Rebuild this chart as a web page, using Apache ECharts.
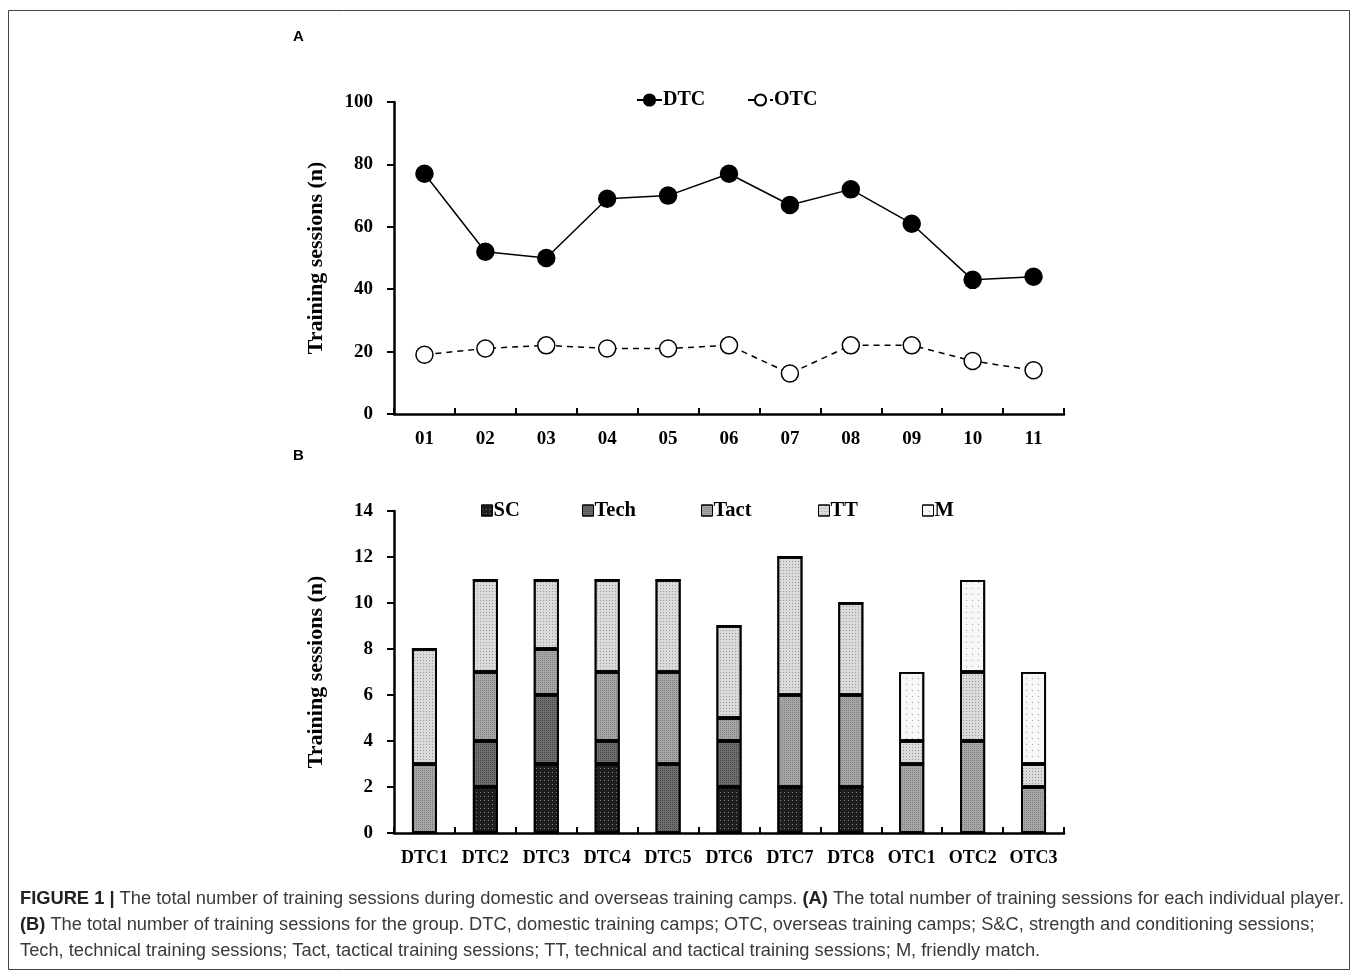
<!DOCTYPE html>
<html>
<head>
<meta charset="utf-8">
<script src="https://cdn.jsdelivr.net/npm/echarts@6/dist/echarts.min.js"></script>
<style>
html,body{margin:0;padding:0;background:#fff;}
#chart{width:1357px;height:980px;}
</style>
</head>
<body>
<div id="chart"></div>
<script>
// Panel A data
const players = ['01','02','03','04','05','06','07','08','09','10','11'];
const dtcValues = [77, 52, 50, 69, 70, 77, 67, 72, 61, 43, 44];
const otcValues = [19, 21, 22, 21, 21, 22, 13, 22, 22, 17, 14];
const yTicksA = [0, 20, 40, 60, 80, 100];

// Panel B data
const camps = ['DTC1','DTC2','DTC3','DTC4','DTC5','DTC6','DTC7','DTC8','OTC1','OTC2','OTC3'];
const scValues   = [0, 2, 3, 3, 0, 2, 2, 2, 0, 0, 0];
const techValues = [0, 2, 3, 1, 3, 2, 0, 0, 0, 0, 0];
const tactValues = [3, 3, 2, 3, 4, 1, 4, 4, 3, 4, 2];
const ttValues   = [5, 4, 3, 4, 4, 4, 6, 4, 1, 3, 1];
const mValues    = [0, 0, 0, 0, 0, 0, 0, 0, 3, 4, 4];
const yTicksB = [0, 2, 4, 6, 8, 10, 12, 14];

const serif = '"Liberation Serif", "Times New Roman", serif';
const sans = '"Liberation Sans", Arial, sans-serif';

const chart = echarts.init(document.getElementById('chart'), null, {renderer: 'canvas'});

const axisLine = {show: true, lineStyle: {color: '#000', width: 2.5}};
const labelStyle = {color: '#000', fontFamily: serif, fontWeight: 'bold', fontSize: 19};

const barStyles = {
  SC:   {color: '#1e1e1e', decal: {symbol: 'rect', symbolSize: 1, color: 'rgba(255,255,255,0.45)', dashArrayX: [1, 3], dashArrayY: [1, 3]}},
  Tech: {color: '#6e6e6e', decal: {symbol: 'rect', symbolSize: 1, color: 'rgba(0,0,0,0.35)', dashArrayX: [1, 1], dashArrayY: [1, 1]}},
  Tact: {color: '#a6a6a6', decal: {symbol: 'rect', symbolSize: 1, color: 'rgba(0,0,0,0.22)', dashArrayX: [1, 1], dashArrayY: [1, 1]}},
  TT:   {color: '#dadada', decal: {symbol: 'rect', symbolSize: 1, color: 'rgba(0,0,0,0.28)', dashArrayX: [1, 2], dashArrayY: [1, 2]}},
  M:    {color: '#f7f7f7', decal: {symbol: 'rect', symbolSize: 1, color: 'rgba(0,0,0,0.35)', dashArrayX: [1, 5], dashArrayY: [1, 5]}}
};

function barSeries(name, data) {
  const st = barStyles[name];
  return {
    name: name, type: 'bar', stack: 'B', xAxisIndex: 1, yAxisIndex: 1,
    data: data, barWidth: 25,
    itemStyle: {color: st.color, borderColor: '#000', borderWidth: 1.8, decal: st.decal},
    emphasis: {disabled: true}
  };
}

const legendTextA = {fontFamily: serif, fontWeight: 'bold', fontSize: 20, color: '#000', padding: [0, 0, 0, -4]};
const legendTextB = {fontFamily: serif, fontWeight: 'bold', fontSize: 20.5, color: '#000', padding: [0, 0, 0, -4]};
function legendB(name, left) {
  return {
    data: [{name: name, icon: 'rect'}], top: 500, left: left,
    itemWidth: 11, itemHeight: 11, padding: 0,
    textStyle: legendTextB,
    itemStyle: {borderColor: '#000', borderWidth: 1}
  };
}

const option = {
  animation: false,
  backgroundColor: '#fff',
  legend: [
    {data: ['DTC'], top: 90, left: 636, padding: 0, itemWidth: 25, itemHeight: 14, textStyle: legendTextA},
    {data: ['OTC'], top: 90, left: 747, padding: 0, itemWidth: 25, itemHeight: 14, textStyle: legendTextA},
    legendB('SC', 481),
    legendB('Tech', 582),
    legendB('Tact', 701),
    legendB('TT', 818),
    legendB('M', 922)
  ],
  grid: [
    {left: 394, top: 102, width: 670, height: 312},
    {left: 394, top: 511, width: 670, height: 322}
  ],
  xAxis: [
    {
      type: 'category', gridIndex: 0, data: players, boundaryGap: true,
      axisLine: axisLine,
      axisTick: {show: true, inside: true, length: 6, lineStyle: {color: '#000', width: 2}},
      axisLabel: Object.assign({margin: 16, interval: 0}, labelStyle),
      splitLine: {show: false}
    },
    {
      type: 'category', gridIndex: 1, data: camps, boundaryGap: true,
      axisLine: axisLine,
      axisTick: {show: true, inside: true, length: 6, lineStyle: {color: '#000', width: 2}},
      axisLabel: Object.assign({margin: 16, interval: 0}, labelStyle, {fontSize: 18}),
      splitLine: {show: false}
    }
  ],
  yAxis: [
    {
      type: 'value', gridIndex: 0, min: yTicksA[0], max: yTicksA[yTicksA.length - 1], interval: 20,
      axisLine: axisLine,
      axisTick: {show: true, length: 7, lineStyle: {color: '#000', width: 2}},
      axisLabel: Object.assign({margin: 21}, labelStyle),
      splitLine: {show: false},
      name: 'Training sessions (n)', nameLocation: 'middle', nameGap: 67,
      nameTextStyle: {fontFamily: serif, fontWeight: 'bold', fontSize: 22, color: '#000'}
    },
    {
      type: 'value', gridIndex: 1, min: yTicksB[0], max: yTicksB[yTicksB.length - 1], interval: 2,
      axisLine: axisLine,
      axisTick: {show: true, length: 7, lineStyle: {color: '#000', width: 2}},
      axisLabel: Object.assign({margin: 21}, labelStyle),
      splitLine: {show: false},
      name: 'Training sessions (n)', nameLocation: 'middle', nameGap: 67,
      nameTextStyle: {fontFamily: serif, fontWeight: 'bold', fontSize: 22, color: '#000'}
    }
  ],
  series: [
    {
      name: 'DTC', type: 'line', xAxisIndex: 0, yAxisIndex: 0, data: dtcValues,
      symbol: 'circle', symbolSize: 17,
      lineStyle: {color: '#000', width: 1.5},
      itemStyle: {color: '#000', borderColor: '#000', borderWidth: 1.5},
      emphasis: {disabled: true}
    },
    {
      name: 'OTC', type: 'line', xAxisIndex: 0, yAxisIndex: 0, data: otcValues,
      symbol: 'circle', symbolSize: 17,
      lineStyle: {color: '#000', width: 1.5, type: [6, 5]},
      itemStyle: {color: '#fff', borderColor: '#000', borderWidth: 1.5},
      emphasis: {disabled: true}
    },
    barSeries('SC', scValues),
    barSeries('Tech', techValues),
    barSeries('Tact', tactValues),
    barSeries('TT', ttValues),
    barSeries('M', mValues)
  ],
  graphic: [
    {
      type: 'rect', silent: true,
      shape: {x: 8.5, y: 10.5, width: 1341, height: 959},
      style: {fill: 'none', stroke: '#444', lineWidth: 1}
    },
    {
      type: 'text', left: 293, top: 29,
      style: {text: 'A', font: 'bold 15px ' + sans, fill: '#000'}
    },
    {
      type: 'text', left: 293, top: 448,
      style: {text: 'B', font: 'bold 15px ' + sans, fill: '#000'}
    },
    {
      type: 'text', left: 20, top: 886,
      style: {
        text: '{b|FIGURE 1 |} The total number of training sessions during domestic and overseas training camps. {b|(A)} The total number of training sessions for each individual player.\n' +
              '{b|(B)} The total number of training sessions for the group. DTC, domestic training camps; OTC, overseas training camps; S&C, strength and conditioning sessions;\n' +
              'Tech, technical training sessions; Tact, tactical training sessions; TT, technical and tactical training sessions; M, friendly match.',
        font: '18.3px ' + sans, fill: '#3a3a3a', lineHeight: 26,
        rich: {b: {fontWeight: 'bold', fontFamily: sans, fontSize: 18.3, fill: '#222', lineHeight: 26}}
      }
    }
  ]
};

chart.setOption(option);
</script>
</body>
</html>
